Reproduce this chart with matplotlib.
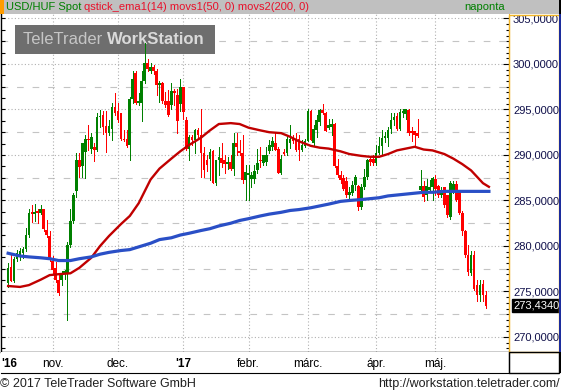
import numpy as np
import pandas as pd
import matplotlib
matplotlib.use('Agg')
import matplotlib.pyplot as plt
from matplotlib.patches import Rectangle
from matplotlib.ticker import MultipleLocator, FuncFormatter

plt.rcParams['font.family'] = ['Liberation Sans', 'DejaVu Sans']

# daily USD/HUF candles, first one is 2016-10-11 (business days)
opens = [275.9, 277.7, 276.2, 278.6, 279.0, 279.2, 279.7, 281.2, 283.7, 283.5,
         283.8, 283.6, 284.1, 281.8, 281.1, 278.4, 277.6, 276.3, 276.3, 277.0,
         277.0, 280.1, 282.7, 286.0, 289.4, 288.8, 290.3, 291.8, 290.7, 290.9,
         290.6, 294.2, 294.4, 293.2, 292.4, 292.8, 295.3, 294.8, 294.6, 291.8,
         291.7, 291.1, 296.2, 299.0, 295.7, 295.7, 298.1, 300.1, 299.2, 299.7,
         299.2, 297.7, 297.9, 295.9, 295.9, 295.5, 297.0, 296.6, 295.6, 297.5,
         293.8, 290.7, 292.0, 291.6, 292.7, 292.2, 290.2, 289.4, 289.6, 290.4,
         286.9, 289.5, 289.7, 289.4, 289.0, 289.2, 288.5, 291.3, 290.4, 290.2,
         287.2, 287.8, 287.4, 287.4, 288.3, 289.4, 289.1, 289.2, 290.4, 290.9,
         291.3, 290.7, 288.0, 290.3, 290.2, 291.3, 292.0, 291.8, 291.8, 290.6,
         291.0, 291.5, 294.8, 291.3, 292.7, 293.6, 294.9, 294.6, 293.0, 293.1,
         293.4, 288.8, 287.8, 287.5, 287.1, 285.6, 285.8, 286.7, 286.6, 284.3,
         286.5, 287.6, 289.6, 289.6, 289.1, 290.2, 291.0, 291.9, 291.9, 292.8,
         293.8, 294.3, 292.9, 294.6, 294.5, 294.9, 292.6, 292.6, 292.4, 286.2,
         286.6, 285.6, 286.2, 286.5, 287.4, 286.6, 285.6, 286.5, 285.6, 283.2,
         286.0, 286.8, 286.0, 283.6, 281.6, 279.0, 277.0, 279.0, 275.7, 274.6,
         275.8, 274.6]
highs = [278.1, 279.0, 278.8, 279.6, 279.8, 279.9, 282.0, 284.1, 284.5, 284.6,
         284.1, 284.5, 284.1, 282.8, 281.7, 278.9, 278.2, 277.0, 277.3, 277.4,
         280.4, 284.1, 285.8, 290.2, 290.2, 291.3, 292.2, 293.3, 292.4, 291.3,
         294.6, 294.9, 294.8, 294.8, 293.8, 295.7, 296.8, 295.7, 294.6, 292.7,
         292.7, 296.4, 299.2, 299.2, 296.8, 299.2, 302.3, 300.6, 300.1, 299.9,
         299.5, 298.1, 298.0, 296.9, 297.1, 297.9, 297.3, 297.3, 298.4, 297.5,
         294.2, 292.2, 292.2, 292.8, 293.0, 295.1, 290.9, 290.0, 290.7, 290.6,
         289.5, 290.9, 291.3, 290.0, 289.8, 290.0, 292.4, 292.4, 291.6, 292.2,
         288.9, 288.9, 288.1, 288.9, 290.7, 290.9, 290.0, 290.9, 291.6, 292.0,
         292.5, 290.9, 290.0, 290.7, 292.2, 293.3, 292.2, 292.4, 292.2, 291.6,
         291.8, 295.1, 294.9, 293.3, 294.4, 295.1, 295.6, 294.7, 294.0, 294.0,
         293.5, 289.6, 288.2, 287.8, 287.6, 286.5, 287.1, 287.8, 286.7, 286.8,
         288.5, 289.6, 289.9, 290.0, 291.1, 292.0, 292.7, 292.5, 293.1, 294.6,
         294.6, 294.6, 295.1, 295.1, 295.0, 295.0, 293.1, 292.6, 293.9, 288.4,
         287.1, 287.4, 287.2, 287.6, 287.8, 286.7, 286.5, 286.5, 285.6, 287.1,
         287.1, 287.1, 286.2, 283.8, 281.8, 280.1, 279.4, 279.4, 276.3, 276.3,
         276.3, 275.0]
lows = [275.5, 276.1, 276.0, 278.4, 278.5, 278.7, 279.5, 281.0, 282.6, 282.7,
        282.5, 283.5, 281.7, 281.0, 278.3, 277.0, 276.0, 274.6, 275.7, 276.4,
        271.9, 279.9, 282.5, 285.4, 287.6, 287.6, 287.5, 290.6, 290.2, 289.3,
        290.4, 293.1, 292.3, 290.3, 292.2, 291.6, 294.4, 293.6, 291.6, 291.5,
        290.9, 289.4, 295.7, 295.6, 295.5, 293.7, 297.9, 299.2, 299.0, 298.9,
        296.6, 295.8, 295.7, 295.3, 294.3, 295.1, 295.5, 292.4, 294.8, 294.0,
        290.5, 289.5, 291.1, 290.2, 291.8, 287.6, 287.6, 288.2, 287.3, 286.9,
        286.7, 287.8, 288.7, 288.0, 288.5, 288.3, 287.8, 290.0, 290.0, 286.9,
        285.1, 285.0, 286.5, 286.9, 288.0, 288.7, 288.9, 288.9, 290.2, 290.5,
        290.6, 288.0, 287.9, 290.0, 290.0, 290.8, 291.3, 290.4, 289.4, 290.4,
        290.9, 291.5, 291.6, 291.1, 292.0, 293.3, 294.5, 292.6, 292.9, 292.2,
        288.7, 287.6, 286.9, 286.2, 285.4, 285.2, 285.6, 286.2, 284.0, 284.1,
        286.3, 287.4, 288.9, 288.9, 288.9, 290.1, 290.0, 291.4, 291.0, 292.4,
        293.3, 292.7, 292.7, 294.2, 293.9, 292.2, 291.5, 290.9, 292.0, 286.0,
        284.9, 285.0, 286.0, 285.1, 285.6, 285.4, 285.4, 284.3, 283.2, 283.0,
        285.8, 284.9, 283.5, 281.2, 278.8, 276.8, 276.8, 275.2, 273.9, 273.9,
        274.0, 273.2]
closes = [277.6, 276.2, 278.6, 279.2, 279.4, 279.7, 281.2, 283.6, 283.5, 283.7,
          283.6, 284.1, 281.9, 281.2, 278.5, 277.4, 276.3, 274.8, 277.0, 277.2,
          280.1, 282.7, 285.6, 289.4, 288.7, 291.3, 291.8, 291.6, 292.0, 290.6,
          294.2, 294.3, 293.1, 292.4, 293.2, 295.3, 294.6, 293.8, 291.7, 291.6,
          291.0, 296.1, 298.3, 295.7, 295.9, 298.1, 300.1, 299.5, 299.7, 299.2,
          297.7, 297.9, 295.9, 295.5, 294.4, 297.0, 296.8, 293.7, 297.5, 294.7,
          290.7, 292.0, 291.6, 292.7, 292.2, 290.2, 288.4, 288.9, 290.3, 286.9,
          289.4, 289.8, 289.1, 289.0, 289.2, 288.5, 291.3, 290.9, 290.2, 287.2,
          288.1, 288.0, 287.8, 288.2, 289.1, 289.3, 290.0, 290.0, 291.1, 291.5,
          290.6, 288.0, 289.6, 290.1, 291.8, 291.8, 291.5, 290.6, 290.6, 291.1,
          291.5, 294.8, 291.6, 292.9, 293.8, 294.9, 294.6, 292.6, 293.3, 293.4,
          288.8, 287.8, 287.3, 286.3, 285.6, 285.9, 286.7, 287.6, 284.3, 286.5,
          287.6, 289.5, 289.2, 289.1, 290.2, 291.0, 291.9, 292.1, 292.7, 293.8,
          294.2, 292.9, 294.7, 294.8, 295.0, 292.4, 292.4, 292.2, 292.1, 286.6,
          285.4, 286.6, 286.5, 287.5, 286.3, 285.6, 286.2, 284.5, 283.4, 286.9,
          286.8, 285.1, 283.6, 281.6, 279.0, 277.1, 279.0, 275.3, 274.6, 275.7,
          274.6, 273.434]

# movs1(50) and movs2(200) at some candle numbers
ma_idx = [0, 4, 7, 11, 14, 17, 21, 24, 28, 31, 34, 38, 41, 44, 48, 51, 55, 58,
          61, 65, 68, 71, 75, 78, 81, 85, 88, 92, 95, 98, 102, 105, 108, 112,
          115, 119, 122, 125, 128, 131, 134, 137, 140, 143, 147, 150, 153, 156,
          158, 160, 162]
ma50 = [275.6, 275.5, 275.7, 276.3, 276.8, 276.9, 277.0, 277.6, 278.7, 280.0,
        281.1, 282.4, 283.3, 284.7, 287.3, 288.5, 289.6, 290.4, 291.1, 291.9,
        292.7, 293.4, 293.5, 293.4, 293.0, 292.7, 292.5, 292.4, 292.0, 291.5,
        291.0, 290.8, 290.7, 290.4, 290.1, 289.9, 289.8, 289.8, 290.1, 290.5,
        290.7, 290.9, 290.6, 290.5, 290.1, 289.6, 289.0, 288.3, 287.6, 286.9,
        286.5]
ma200 = [279.2, 278.9, 278.8, 278.7, 278.6, 278.4, 278.4, 278.6, 278.8, 279.1,
         279.3, 279.5, 279.6, 279.9, 280.3, 280.7, 280.9, 281.2, 281.4, 281.7,
         281.9, 282.2, 282.5, 282.8, 283.0, 283.3, 283.5, 283.7, 283.9, 284.0,
         284.2, 284.4, 284.6, 284.9, 285.0, 285.1, 285.2, 285.3, 285.5, 285.6,
         285.7, 285.8, 285.9, 285.9, 286.0, 286.0, 286.0, 286.0, 286.0, 286.0,
         286.0]

month_labels = ['nov.', 'dec.', "'17", 'febr.', 'márc.', 'ápr.', 'máj.']

dates = pd.bdate_range('2016-10-11', periods=len(closes))
idx = np.arange(len(closes))
month_start = [i for i in range(1, len(dates)) if dates[i].month != dates[i - 1].month]

W, H = 561, 390
fig = plt.figure(figsize=(W / 100, H / 100), dpi=100)
fig.patch.set_facecolor('white')


def box(x0, y0, x1, y1):
    # pixel box measured from top-left -> figure fraction
    return [x0 / W, 1 - y1 / H, (x1 - x0) / W, (y1 - y0) / H]


def frect(x0, y0, x1, y1, **kw):
    fig.patches.append(Rectangle((x0 / W, 1 - y1 / H), (x1 - x0) / W, (y1 - y0) / H,
                                 transform=fig.transFigure, **kw))


ax = fig.add_axes(box(1, 14, 508.5, 352))
ax.set_xlim(-2.4, 168.6)
ax.set_ylim(268.35, 305.49)

# grid
for v in np.arange(270, 306, 5):
    ax.axhline(v, color='#b0b0b0', lw=0.8, dashes=(1, 2), zorder=1)
for v in np.arange(272.5, 305, 5):
    ax.axhline(v, color='#c4c4c4', lw=0.8, dashes=(6, 8), zorder=1)
for i in month_start:
    ax.axvline(i, color='#b0b0b0', lw=0.8, dashes=(1, 2), zorder=1)

# logo box behind the candles
ax.add_patch(Rectangle((15 / W, 1 - 54 / H), 200 / W, 29 / H, transform=fig.transFigure,
                       facecolor='#6e6e6e', edgecolor='none', zorder=2))
t_logo = ax.text(23 / W, 1 - 40 / H, 'TeleTrader ', transform=fig.transFigure, fontsize=12,
                 color='#c6c6c6', va='center', zorder=2.5)

# candles
o = np.array(opens)
c = np.array(closes)
cols = np.where(c >= o, '#008000', '#ff0000')
ax.vlines(idx, lows, highs, colors=cols, lw=0.72, zorder=3, antialiased=False)
ax.bar(idx, np.maximum(np.abs(c - o), 0.12), bottom=np.minimum(o, c), width=0.9,
       color=cols, linewidth=0, zorder=4, antialiased=False)

# moving averages
ax.plot(ma_idx, ma50, color='#c00000', lw=1.7, zorder=5)
ax.plot(ma_idx, ma200, color='#2a4fc6', lw=2.3, zorder=6)

ax.set_xticks([])
ax.yaxis.set_major_locator(MultipleLocator(5))
ax.yaxis.set_minor_locator(MultipleLocator(1.25))
ax.tick_params(axis='y', which='both', direction='in', left=True, labelleft=False,
               length=3, width=0.8, color='black')
ax.spines['top'].set_visible(False)
ax.spines['right'].set_color('#f0b428')
ax.spines['left'].set_linewidth(1)
ax.spines['bottom'].set_linewidth(1)

# right price scale
ay = ax.twinx()
ay.set_ylim(ax.get_ylim())
ay.yaxis.set_major_locator(MultipleLocator(5))
ay.yaxis.set_minor_locator(MultipleLocator(0.625))
ay.yaxis.set_major_formatter(FuncFormatter(lambda v, p: f'{v:.4f}'.replace('.', ',')))
ay.tick_params(axis='y', which='major', direction='in', length=4, width=0.8, pad=3.2,
               labelsize=8, labelcolor='#10104a', color='black')
ay.tick_params(axis='y', which='minor', direction='in', length=2.2, width=0.8, color='black')
for s in ay.spines.values():
    s.set_visible(False)
last = closes[-1]
ay.annotate(f'{last:.4f}'.replace('.', ','), xy=(1, last), xycoords=ay.get_yaxis_transform(),
            xytext=(3.2, 0), textcoords='offset points', ha='left', va='center', fontsize=8,
            color='white', annotation_clip=False,
            bbox=dict(boxstyle='square,pad=0.12', fc='black', ec='black'))

# bottom time band
ab = fig.add_axes(box(1, 352, 508.5, 373))
ab.set_xlim(ax.get_xlim())
ab.set_ylim(0, 1)
ab.set_xticks([])
ab.set_yticks([])
ab.spines['top'].set_visible(False)
ab.spines['left'].set_visible(False)
ab.text(-2.2, 0.45, "'16", ha='left', va='center', fontsize=8.5, fontweight='bold')
for i, lab in zip(month_start, month_labels):
    ab.text(i, 0.45, lab, ha='center', va='center', fontsize=8.5,
            fontweight='bold' if lab.startswith("'") else 'normal')

# frame pieces around the chart
frect(0, 0, 559, 14, facecolor='#c0c0c0', edgecolor='none')
frect(0, 0, 4, 14, facecolor='#ff9c00', edgecolor='none')
frect(509, 14.5, 558.5, 352, facecolor='none', edgecolor='#f0b428', lw=1)
frect(509, 352, 559, 373, facecolor='none', edgecolor='black', lw=1)
frect(559, 0, 561, 373, facecolor='black', edgecolor='none')
frect(559, 14, 561, 352, facecolor='#1c2c9c', edgecolor='none')

t1 = fig.text(6 / W, 1 - 7.5 / H, 'USD/HUF Spot ', color='#008000', fontsize=8, va='center')
fig.text(505 / W, 1 - 7.5 / H, 'naponta', color='#008000', fontsize=8, va='center', ha='right')
fig.text(0, 1 - 384 / H, '© 2017 TeleTrader Software GmbH', fontsize=9, va='center',
         color='#202020')
fig.text(560 / W, 1 - 384 / H, 'http://workstation.teletrader.com/', fontsize=9,
         va='center', ha='right', color='#202020')

# second colour of the header and of the logo start where the first text ends
r = fig.canvas.get_renderer()
x_red = t1.get_window_extent(r).x1
fig.text(x_red / W, 1 - 7.5 / H, 'qstick_ema1(14) movs1(50, 0) movs2(200, 0)',
         color='#e8102a', fontsize=8, va='center')
x_ws = t_logo.get_window_extent(r).x1
ax.text(x_ws / W, 1 - 40 / H, 'WorkStation', transform=fig.transFigure, fontsize=12,
        fontweight='bold', color='#dadada', va='center', zorder=2.5)

fig.savefig('out.png', dpi=100)
